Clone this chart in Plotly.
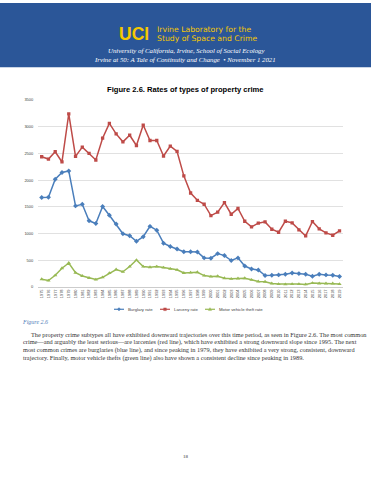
import plotly.graph_objects as go

W, H = 371, 480

years = list(range(1975, 2020))

burglary = [1674, 1680, 2018, 2142, 2172, 1518, 1548, 1239, 1190, 1506,
            1342, 1178, 996, 959, 856, 941, 1135, 1063, 820, 759,
            710, 660, 661, 655, 545, 539, 625, 588, 496, 545,
            392, 337, 318, 214, 220, 227, 239, 263, 251, 239,
            202, 239, 227, 220, 196]

larceny = [2438, 2395, 2531, 2340, 3240, 2445, 2618, 2500, 2377, 2785,
           3062, 2865, 2717, 2840, 2648, 3031, 2742, 2742, 2451, 2635,
           2537, 2080, 1759, 1623, 1549, 1337, 1400, 1581, 1362, 1469,
           1231, 1125, 1194, 1219, 1081, 1025, 1231, 1200, 1069, 956,
           1225, 1088, 1012, 969, 1050]

mvtheft = [146, 121, 219, 352, 449, 267, 206, 170, 140, 182,
           261, 328, 285, 383, 504, 383, 370, 383, 364, 340,
           322, 262, 269, 276, 214, 196, 202, 165, 153, 159,
           165, 135, 104, 98, 67, 55, 49, 55, 55, 49,
           73, 67, 67, 67, 55]

series_names = ["Burglary rate", "Larceny rate", "Motor vehicle theft rate"]
series_colors = ["#4A7EBB", "#BE4B48", "#98B954"]
series_symbols = ["diamond", "square", "triangle-up"]

y_ticks = [0, 500, 1000, 1500, 2000, 2500, 3000, 3500]

title = "Figure 2.6. Rates of types of property crime"
para = [
    "The property crime subtypes all have exhibited downward trajectories over this time period, as seen in Figure 2.6. The most common",
    "crime\u2014and arguably the least serious\u2014are larcenies (red line), which have exhibited a strong downward slope since 1995. The next",
    "most common crimes are burglaries (blue line), and since peaking in 1979, they have exhibited a very strong, consistent, downward",
    "trajectory. Finally, motor vehicle thefts (green line) also have shown a consistent decline since peaking in 1989.",
]


def px(x):
    return x / W


def py(y):
    return 1 - y / H


fig = go.Figure()
for vals, name, col, sym in zip([burglary, larceny, mvtheft], series_names, series_colors, series_symbols):
    fig.add_trace(go.Scatter(x=years, y=vals, name=name, mode="lines+markers",
                             line=dict(color=col, width=1.5),
                             marker=dict(symbol=sym, size=3.8 if sym != "square" else 3.3, color=col),
                             showlegend=False))

tick_font = dict(family="Liberation Sans", size=4.0, color="#404040")
fig.update_layout(
    width=W, height=H, margin=dict(l=0, r=0, t=0, b=0),
    paper_bgcolor="white", plot_bgcolor="white",
    showlegend=False,
    xaxis=dict(domain=[px(38.3), px(342.9)], range=[1974.5, 2019.5],
               tickmode="array", tickvals=years, ticktext=[str(y) for y in years],
               tickangle=-90, tickfont=tick_font,
               showgrid=False, zeroline=False, showline=True, linecolor="#bfbfbf", linewidth=0.8,
               ticks="", fixedrange=True),
    yaxis=dict(domain=[py(287), py(98)], range=[0, 3500],
               tickmode="array", tickvals=y_ticks,
               tickfont=tick_font,
               showgrid=True, gridcolor="#d9d9d9", gridwidth=0.8, zeroline=False,
               showline=False, ticks="", ticklabelstandoff=4, fixedrange=True),
)

shapes = []
# Banner
shapes.append(dict(type="rect", xref="paper", yref="paper", x0=0, x1=1, y0=py(65), y1=1,
                   fillcolor="#2B5698", line=dict(width=0), layer="below"))

# Manual compact legend (keys are decoration, not data)
leg_y = 309.5
leg_x = [114, 160, 205]
ann = []
for lx, name, col, sym in zip(leg_x, series_names, series_colors, series_symbols):
    shapes.append(dict(type="line", xref="paper", yref="paper", x0=px(lx), x1=px(lx + 10),
                       y0=py(leg_y), y1=py(leg_y), line=dict(color=col, width=1.2)))
    cx = lx + 5
    if sym == "diamond":
        path = "M {} {} L {} {} L {} {} L {} {} Z".format(px(cx - 1.7), py(leg_y), px(cx), py(leg_y - 1.7),
                                                          px(cx + 1.7), py(leg_y), px(cx), py(leg_y + 1.7))
    elif sym == "square":
        path = "M {} {} L {} {} L {} {} L {} {} Z".format(px(cx - 1.4), py(leg_y - 1.4), px(cx + 1.4), py(leg_y - 1.4),
                                                          px(cx + 1.4), py(leg_y + 1.4), px(cx - 1.4), py(leg_y + 1.4))
    else:
        path = "M {} {} L {} {} L {} {} Z".format(px(cx - 1.7), py(leg_y + 1.3), px(cx + 1.7), py(leg_y + 1.3),
                                                  px(cx), py(leg_y - 1.7))
    shapes.append(dict(type="path", xref="paper", yref="paper", path=path,
                       fillcolor=col, line=dict(color=col, width=0.3)))
    ann.append(dict(x=px(lx + 11.5), y=py(leg_y), text=name, xanchor="left", yanchor="middle",
                    font=dict(family="Liberation Sans", size=4.3, color="#404040")))

fig.update_layout(shapes=shapes)

gold = "#F5C800"
ann.append(dict(x=px(150.5), y=py(31.5), text="<b>UCI</b>", xanchor="right", yanchor="middle",
                font=dict(family="Liberation Sans", size=17.5, color=gold)))
ann.append(dict(x=px(155), y=py(27), text="Irvine Laboratory for the", xanchor="left", yanchor="middle",
                font=dict(family="DejaVu Sans", size=7.7, color=gold)))
ann.append(dict(x=px(155), y=py(36.2), text="Study of Space and Crime", xanchor="left", yanchor="middle",
                font=dict(family="DejaVu Sans", size=7.7, color=gold)))
ann.append(dict(x=px(186), y=py(48), text="<i>University of California, Irvine, School of Social Ecology</i>",
                xanchor="center", yanchor="middle",
                font=dict(family="Liberation Serif", size=6.8, color="white")))
ann.append(dict(x=px(185), y=py(57), text="<i>Irvine at 50: A Tale of Continuity and Change  \u2022 November 1 2021</i>",
                xanchor="center", yanchor="middle",
                font=dict(family="Liberation Serif", size=6.8, color="white")))
ann.append(dict(x=px(185), y=py(87.5), text="<b>" + title + "</b>", xanchor="center", yanchor="middle",
                font=dict(family="Liberation Sans", size=7.6, color="#000000")))
ann.append(dict(x=px(20), y=py(322.5), text="<i>Figure 2.6</i>", xanchor="left", yanchor="middle",
                font=dict(family="Liberation Serif", size=6, color="#4F7DB8")))
line_y = [335, 343, 351, 359]
for i, (t, yy) in enumerate(zip(para, line_y)):
    ann.append(dict(x=px(28.5 if i == 0 else 20.5), y=py(yy), text=t, xanchor="left", yanchor="middle",
                    font=dict(family="Liberation Serif", size=6.3, color="#333333")))
ann.append(dict(x=px(185.5), y=py(458), text="18", xanchor="center", yanchor="middle",
                font=dict(family="Liberation Serif", size=5, color="#333333")))

for a in ann:
    a.update(xref="paper", yref="paper", showarrow=False)
fig.update_layout(annotations=ann)

fig.write_html("out.html", config={"staticPlot": True},
               post_script="document.body.style.margin='0';document.body.style.overflow='hidden';")
